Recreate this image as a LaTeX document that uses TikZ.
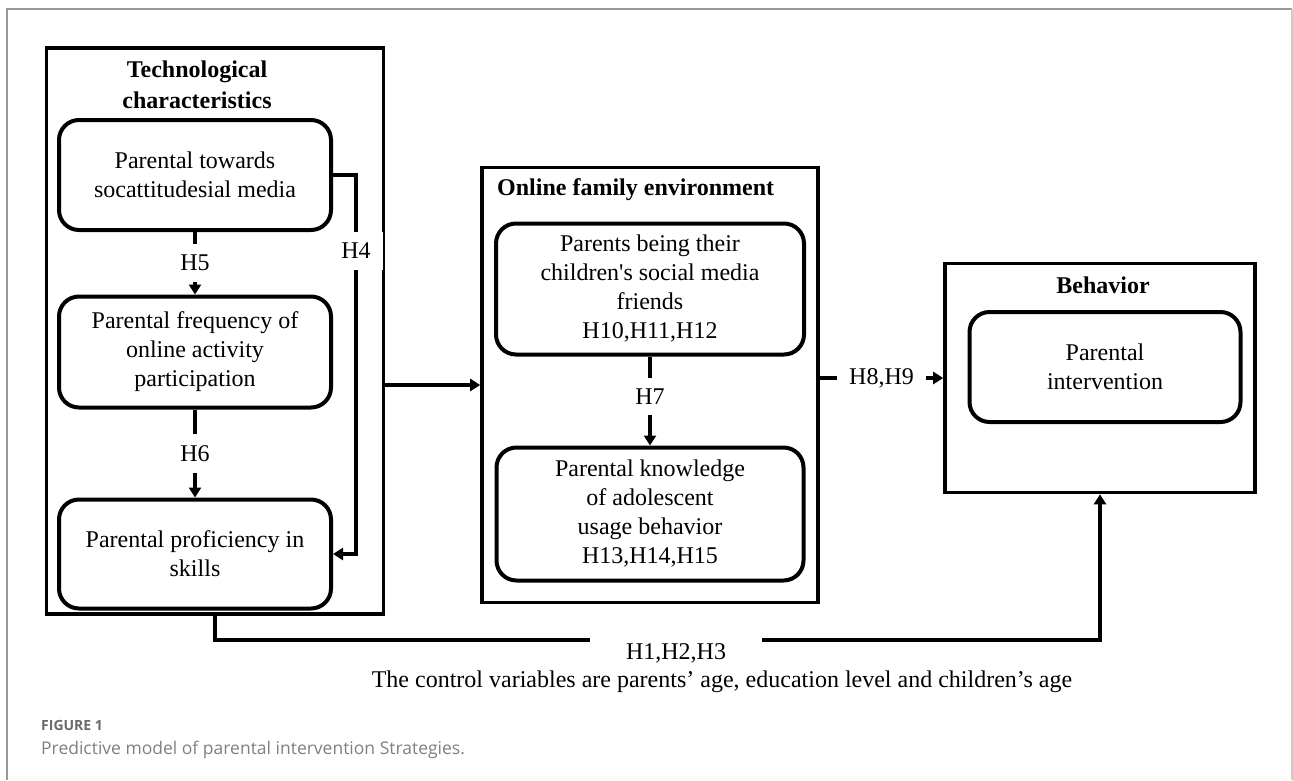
\documentclass[tikz,border=0pt]{standalone}
\usepackage{fontspec}
\setmainfont{Liberation Serif}
\newfontfamily\capfont{Open Sans}
\usepackage{tikz}
\usetikzlibrary{
    arrows.meta,
    positioning,
    calc
}
\definecolor{ink}       {HTML}{000000}
\definecolor{frameline} {HTML}{9A9A9A}
\definecolor{framelight}{HTML}{CCCCCC}
\definecolor{capdark}   {HTML}{6A6A6A}
\definecolor{caplight}  {HTML}{808080}
\newcommand{\diafont}{\fontsize{24}{29}\selectfont}

\begin{document}
\begin{tikzpicture}[
    x=1pt, y=-1pt,
    line cap=butt, line join=miter,
    >={Triangle[length=10pt, width=12pt]},
    %% --- semantic styles ---
    groupbox/.style   = {rectangle, draw=ink, fill=white, line width=3.6pt},
    varbox/.style     = {rectangle, draw=ink, fill=white, line width=4pt,
                         rounded corners=20pt, align=center, font=\diafont,
                         inner sep=2pt},
    grouptitle/.style = {font=\diafont\bfseries, align=center, inner sep=0pt},
    conn/.style       = {->, draw=ink, line width=3.3pt},
    hlabel/.style     = {fill=white, font=\diafont, inner xsep=12pt,
                         inner ysep=11pt},
    widelabel/.style  = {fill=white, font=\diafont, inner xsep=36pt,
                         inner ysep=9pt},
    captext/.style    = {font=\capfont, inner sep=0pt, anchor=base west}
]
\useasboundingbox (0,0) rectangle (1293,780);
\fill[white] (0,0) rectangle (1293,780);
\draw[frameline, line width=1.2pt] (7,780) -- (7,9) -- (1292,9);
\draw[framelight, line width=1.2pt] (1292,9) -- (1292,780);

%% =====================================================
%% Technological characteristics
%% =====================================================
\node[groupbox, minimum width=337, minimum height=566] (TECH) at (215,331) {};
\node[grouptitle] (TECHT) at (197,85) {Technological\\[2pt]characteristics};

\node[varbox, minimum width=272, minimum height=110] (ATT) at (195,175)
    {Parental towards\\socattitudesial media};
\node[varbox, minimum width=272, minimum height=111] (FREQ) at (195,352)
    {Parental frequency of\\online activity\\participation};
\node[varbox, minimum width=272, minimum height=109] (PROF) at (195,554)
    {Parental proficiency in\\skills};

\draw[conn] (ATT.south) -- node[hlabel] (LH5) {H5} (FREQ.north);
\draw[conn] (FREQ.south) -- node[hlabel] (LH6) {H6} (PROF.north);

% H4 runs down the right side of the three boxes
\coordinate (H4X) at (356,0);
\draw[conn] (ATT.east) -- (ATT.east -| H4X)
    -- node[hlabel, pos=0.2] (LH4) {H4} (PROF.east -| H4X) -- (PROF.east);

%% =====================================================
%% Online family environment
%% =====================================================
\node[groupbox, minimum width=336, minimum height=435] (ONLINE) at (650,385) {};
\node[grouptitle, anchor=base west] (ONLINET) at (497,195)
    {Online family environment};

\node[varbox, minimum width=308, minimum height=131] (FRIEND) at (650,289)
    {Parents being their\\children\textquotesingle s social media\\friends\\H10,H11,H12};
\node[varbox, minimum width=307, minimum height=133] (KNOW) at (650,514)
    {Parental knowledge\\of adolescent\\usage behavior\\H13,H14,H15};

\draw[conn] (FRIEND.south) -- node[hlabel, pos=0.45] (LH7) {H7} (KNOW.north);

\draw[conn] (ONLINE.west -| TECH.east) -- (ONLINE.west);

%% =====================================================
%% Behavior
%% =====================================================
\node[groupbox, minimum width=310, minimum height=229] (BEHAV) at (1100,378) {};
\node[grouptitle, anchor=base] (BEHAVT) at (1103,293) {Behavior};

\node[varbox, minimum width=271, minimum height=110] (INTV) at (1105,367)
    {Parental\\intervention};

\draw[conn] (BEHAV.west -| ONLINE.east) -- node[hlabel] (LH89) {H8,H9} (BEHAV.west);

%% =====================================================
%% Control variables path along the bottom
%% =====================================================
\coordinate (CTRL) at (0,640);
\draw[conn] (TECH.south) -- (TECH.south |- CTRL)
    -- node[widelabel, pos=0.521, yshift=-13pt] (LH123) {H1,H2,H3}
    (BEHAV.south |- CTRL) -- (BEHAV.south);

\node[font=\diafont, anchor=base, inner sep=0pt] (CTRLT) at (722,687)
    {The control variables are parents’ age, education level and children’s age};

%% =====================================================
%% Caption
%% =====================================================
\node[captext, font=\capfont\fontsize{14}{16}\selectfont\bfseries, text=capdark]
    (CAPN) at (41,730) {FIGURE 1};
\node[captext, font=\capfont\fontsize{17.5}{20}\selectfont, text=caplight]
    (CAPT) at (41,754) {Predictive model of parental intervention Strategies.};

\end{tikzpicture}
\end{document}
